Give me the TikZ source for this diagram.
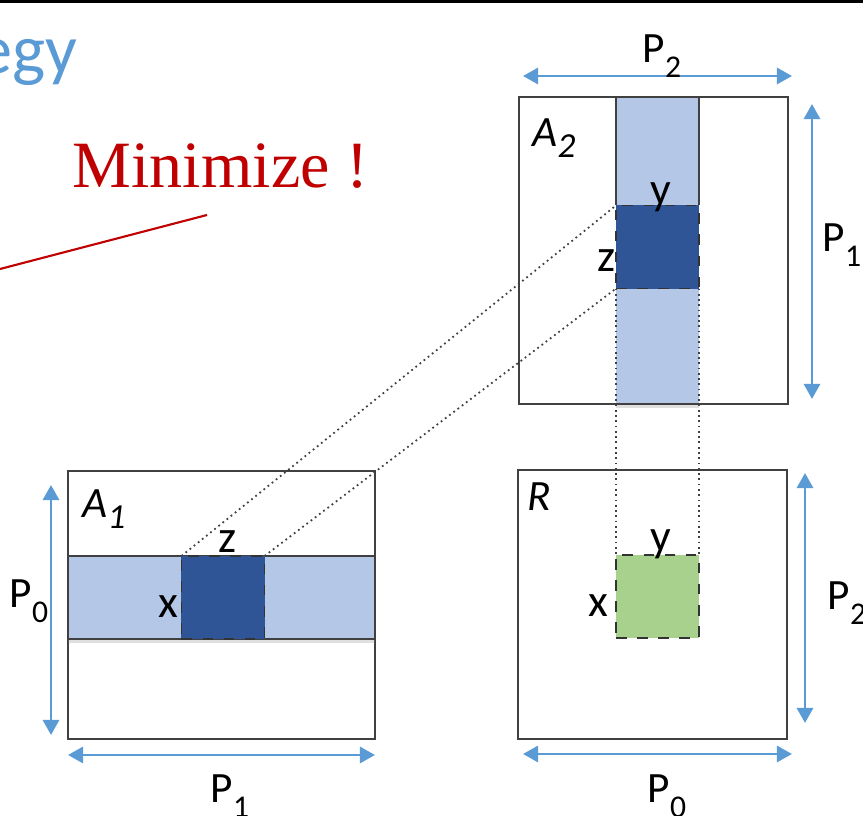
\documentclass[tikz,border=0pt]{standalone}
\usepackage{fontspec}
\setmainfont{Carlito}
\newfontfamily\timesfont{Liberation Serif}
\usetikzlibrary{arrows.meta,positioning,shadows}

\definecolor{dimblue}{HTML}{5B9BD5}
\definecolor{rowblue}{HTML}{B4C7E7}
\definecolor{tileblue}{HTML}{2F5597}
\definecolor{tilegreen}{HTML}{A9D18E}
\definecolor{minred}{HTML}{C00000}

\newcommand{\Psub}[1]{P\raisebox{-4pt}{\fontsize{9}{9}\selectfont #1}}
\newcommand{\Msub}[2]{\textit{#1\raisebox{-3pt}{\fontsize{10}{10}\selectfont #2}}}

\tikzset{
  mat/.style={draw=black!75,line width=0.45pt,inner sep=0pt,outer sep=0pt},
  band/.style={mat,fill=rowblue,drop shadow={shadow xshift=0pt,shadow yshift=-1.2pt,opacity=.25}},
  tile/.style={draw=black!80,dashed,line width=0.45pt,inner sep=0pt,outer sep=0pt,
    minimum width=0.83cm,minimum height=0.83cm},
  dimarrow/.style={dimblue,line width=0.8pt,{Triangle[length=4.3pt,width=4.6pt]}-{Triangle[length=4.3pt,width=4.6pt]}},
  proj/.style={black!75,densely dotted,line width=0.5pt},
  plabel/.style={anchor=base west,inner sep=0pt,font=\fontsize{12.3}{12}\selectfont},
  idx/.style={anchor=base west,inner sep=0pt,font=\fontsize{13}{13}\selectfont}
}

\begin{document}
\begin{tikzpicture}[x=0.01cm,y=-0.01cm]
  \useasboundingbox (0,0) rectangle (863,816);
  \fill (0,0) rectangle (863,3);

  \node[anchor=base east,inner sep=0pt,text=dimblue,font=\fontsize{20}{20}\selectfont] (title) at (78,74) {egy};
  \node[anchor=base west,inner sep=0pt,text=minred,font=\timesfont\fontsize{18.8}{19}\selectfont] (minimize) at (72,188) {Minimize !};
  \coordinate (redA) at (0,269);
  \coordinate (redB) at (207,215);
  \draw[minred,line width=0.6pt] (redA) -- (redB);

  % A1
  \node[mat,minimum width=3.07cm,minimum height=2.68cm] (A1) at (221.5,605) {};
  \node[band,minimum width=3.07cm,minimum height=0.83cm] (row) at (221.5,597.5) {};
  \node[tile,fill=tileblue] (t1) at (223,597.5) {};
  \node[plabel] at (82,518) {\Msub{A}{1}};
  \node[idx] at (218,553) {z};
  \node[idx] at (158,618) {x};

  % A2
  \node[mat,minimum width=2.69cm,minimum height=3.07cm] (A2) at (653.5,250.5) {};
  \node[band,draw=none,minimum width=0.83cm,minimum height=3.07cm] (col) at (657.5,250.5) {};
  \node[tile,fill=tileblue] (t2) at (657.5,247) {};
  \draw[mat] (t2.north west) |- (col.north east) -- (t2.north east);
  \draw[mat] (A2.south west) -- (A2.south east);
  \node[plabel] at (532,147) {\Msub{A}{2}};
  \node[idx] at (650,205) {y};
  \node[idx] at (597,272) {z};

  % R
  \node[mat,minimum width=2.69cm,minimum height=2.69cm] (R) at (652.5,604.5) {};
  \node[tile,fill=tilegreen] (t3) at (657.5,596.5) {};
  \node[plabel] at (527,511) {\textit{R}};
  \node[idx] at (650,552) {y};
  \node[idx] at (588,617) {x};

  \draw[proj] (t1.north west) -- (t2.north west);
  \draw[proj] (t1.north east) -- (t2.south west);
  \draw[proj] (t2.south west) -- (t3.north west);
  \draw[proj] (t2.south east) -- (t3.north east);

  % dimensions
  \coordinate (a2l) at (523,76);  \coordinate (a2r) at (792,76);
  \coordinate (a2t) at (812,104); \coordinate (a2b) at (812,399);
  \coordinate (a1t) at (51,485);  \coordinate (a1b) at (51,735);
  \coordinate (a1l) at (68,755);  \coordinate (a1r) at (375,755);
  \coordinate (rt) at (805,473);  \coordinate (rb) at (805,723);
  \coordinate (rl) at (523,754);  \coordinate (rr) at (792,754);
  \draw[dimarrow] (a2l) -- (a2r);
  \draw[dimarrow] (a2t) -- (a2b);
  \draw[dimarrow] (a1t) -- (a1b);
  \draw[dimarrow] (a1l) -- (a1r);
  \draw[dimarrow] (rt) -- (rb);
  \draw[dimarrow] (rl) -- (rr);
  \node[plabel] at (642,63) {\Psub{2}};
  \node[plabel] at (822,252) {\Psub{1}};
  \node[plabel] at (9,608) {\Psub{0}};
  \node[plabel] at (210,803) {\Psub{1}};
  \node[plabel] at (827,610) {\Psub{2}};
  \node[plabel] at (647,803) {\Psub{0}};
\end{tikzpicture}
\end{document}
